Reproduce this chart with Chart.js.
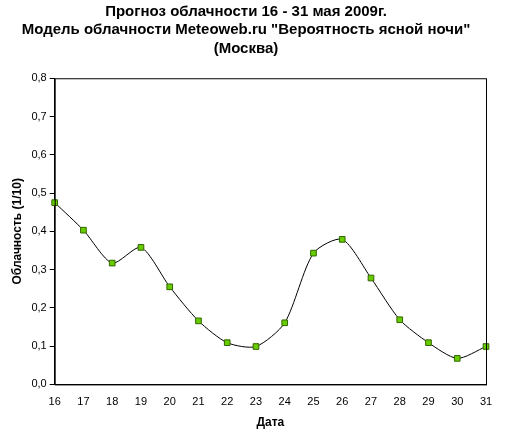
<!DOCTYPE html><html><head><meta charset="utf-8">
<script src="https://cdn.jsdelivr.net/npm/chart.js@4"></script>
<style>body{margin:0;background:#fff}#w{width:523px;height:436px}</style></head><body><div id="w"><canvas id="c"></canvas></div>
<script>
const days=['16','17','18','19','20','21','22','23','24','25','26','27','28','29','30','31'];
const cloud=[0.475,0.403,0.317,0.358,0.255,0.166,0.109,0.099,0.161,0.343,0.379,0.278,0.169,0.109,0.068,0.099];
const titleLines=['Прогноз облачности 16 - 31 мая 2009г.','Модель облачности Meteoweb.ru "Вероятность ясной ночи"','(Москва)'];
const border={id:'b',afterDraw(ch){const a=ch.chartArea,x=ch.ctx;x.save();x.strokeStyle='#000';x.lineWidth=1;x.strokeRect(a.left+.5,a.top+.5,a.right-a.left,a.bottom-a.top);x.restore();}};
new Chart(document.getElementById('c'),{type:'line',data:{labels:days,datasets:[{data:cloud,borderColor:'#000',borderWidth:1,tension:0.25,pointStyle:'rect',pointRadius:4,pointBackgroundColor:'#66cc00',pointBorderColor:'#336600',pointBorderWidth:1}]},
options:{responsive:true,maintainAspectRatio:false,animation:false,layout:{padding:{left:6,right:37,top:0,bottom:2}},
plugins:{legend:{display:false},tooltip:{enabled:false},title:{display:true,text:titleLines,color:'#000',font:{family:'Arial, Liberation Sans',size:15,weight:'bold',lineHeight:1.25},padding:{top:2,bottom:20}}},
scales:{x:{offset:false,grid:{display:false},border:{color:'#000'},ticks:{color:'#000',maxRotation:0,autoSkip:false,font:{family:'Arial, Liberation Sans',size:11}},title:{display:true,text:'Дата',color:'#000',font:{family:'Arial, Liberation Sans',size:12,weight:'bold'}}},
y:{min:0,max:0.8,grid:{drawOnChartArea:false,tickColor:'#000',tickLength:5},border:{color:'#000'},ticks:{stepSize:0.1,color:'#000',font:{family:'Arial, Liberation Sans',size:11},callback:v=>v.toFixed(1).replace('.',',')},title:{display:true,text:'Облачность (1/10)',color:'#000',font:{family:'Arial, Liberation Sans',size:12,weight:'bold'}}}}},plugins:[border]});
</script></body></html>
